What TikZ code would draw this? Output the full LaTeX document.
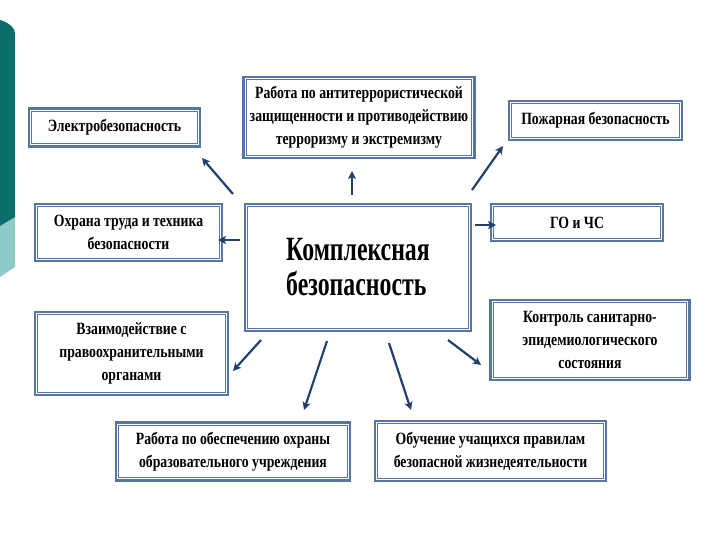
\documentclass[tikz,border=0pt]{standalone}
\usepackage{fontspec}
\setmainfont{Liberation Serif}[FakeStretch=0.8]
\newfontfamily\bigfont{Liberation Serif}[FakeStretch=0.7]
\usetikzlibrary{arrows.meta}
\definecolor{bord}{HTML}{56779F}
\definecolor{arr}{HTML}{22406C}
\definecolor{tealdark}{HTML}{0B6E6A}
\definecolor{teallight}{HTML}{8FCAC6}
\tikzset{
  box/.style={draw=bord, line width=2.8pt,
    fill=white, inner sep=2pt, align=center,
    path picture={\draw[bord, line width=0.9pt]
      ([shift={(2.7pt,-2.7pt)}]path picture bounding box.north west) rectangle
      ([shift={(-2.7pt,2.7pt)}]path picture bounding box.south east);},
    font=\bfseries\fontsize{17.2}{23}\selectfont},
  bigbox/.style={box, font=\bigfont\bfseries\fontsize{34}{35}\selectfont, align=left},
  conn/.style={draw=arr, line width=2.2pt, -{Stealth[length=8pt,width=8pt,inset=2pt]}}
}
\begin{document}
\begin{tikzpicture}[x=1pt,y=-1pt]
\useasboundingbox (0,0) rectangle (720,540);
% left decorative bar
\fill[teallight] (0,226) -- (15,217) -- (15,267) -- (0,277) -- cycle;
\fill[tealdark] (0,20) .. controls (8,22) and (15,28) .. (15,33) -- (15,217) -- (0,226) -- cycle;
% boxes
\node[box, minimum width=171pt, minimum height=38pt] (elec) at (114.5,127.5) {Электробезопасность};
\node[box, minimum width=231pt, minimum height=81pt] (anti) at (359,117.5)
  {Работа по антитеррористической\\защищенности и противодействию\\терроризму и экстремизму};
\node[box, minimum width=173pt, minimum height=39pt] (fire) at (595.5,120.5) {Пожарная безопасность};
\node[box, minimum width=187pt, minimum height=57pt] (ohr) at (128.5,232.5) {Охрана труда и техника\\безопасности};
\node[bigbox, minimum width=226pt, minimum height=127pt] (center) at (358,267.5) {Комплексная\\безопасность};
\node[box, minimum width=172pt, minimum height=37pt] (go) at (577,222.5) {ГО и ЧС};
\node[box, minimum width=193pt, minimum height=83pt] (vz) at (131.5,353.5)
  {Взаимодействие с\\правоохранительными\\органами};
\node[box, minimum width=199pt, minimum height=80pt] (kontr) at (590,340)
  {Контроль санитарно-\\эпидемиологического\\состояния};
\node[box, minimum width=234pt, minimum height=58pt] (rab) at (233,451.5)
  {Работа по обеспечению охраны\\образовательного учреждения};
\node[box, minimum width=231pt, minimum height=60pt] (obuch) at (490.5,451)
  {Обучение учащихся правилам\\безопасной жизнедеятельности};
% connector endpoints
\coordinate (s1) at (233,194); \coordinate (e1) at (202,158);
\coordinate (s2) at (352,195); \coordinate (e2) at (352,171);
\coordinate (s3) at (472,190); \coordinate (e3) at (503,146);
\coordinate (s4) at (240,240); \coordinate (e4) at (218,240);
\coordinate (s5) at (475,225); \coordinate (e5) at (496,225);
\coordinate (s6) at (261,340); \coordinate (e6) at (233,371);
\coordinate (s7) at (327,341); \coordinate (e7) at (304,410);
\coordinate (s8) at (389,343); \coordinate (e8) at (411,410);
\coordinate (s9) at (448,340); \coordinate (e9) at (481,365);
\foreach \i in {1,...,9} {\draw[conn] (s\i) -- (e\i);}
\end{tikzpicture}
\end{document}
